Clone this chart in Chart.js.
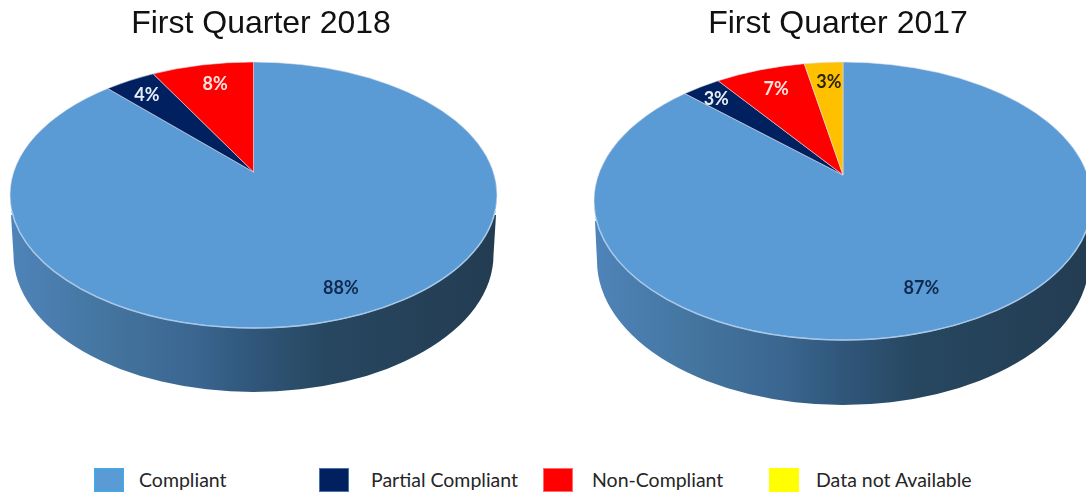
<!DOCTYPE html>
<html>
<head>
<meta charset="utf-8">
<title>Compliance by quarter</title>
<script src="https://cdn.jsdelivr.net/npm/chart.js@4"></script>
<style>
    html, body { margin: 0; padding: 0; background: #fff; }
    body { position: relative; width: 1086px; height: 493px; overflow: hidden; }
    canvas { position: absolute; top: 0; }
    #chart2018 { left: 0; }
    #chart2017 { left: 590px; }
    .swatch { position: absolute; top: 468px; width: 28px; height: 22px; border: 1px solid; }
    .legend-text { position: absolute; top: 468px; line-height: 25px; font: 19.5px Lato, sans-serif; color: #262626; white-space: nowrap; }
</style>
</head>
<body>
<canvas id="chart2018" width="522" height="430"></canvas>
<canvas id="chart2017" width="496" height="430"></canvas>
<div id="legend"></div>

<script>
// Data
const categories2018 = ['Compliant', 'Partial Compliant', 'Non-Compliant'];
const values2018 = [88, 4, 8];
const categories2017 = ['Compliant', 'Partial Compliant', 'Non-Compliant', 'Data not Available'];
const values2017 = [87, 3, 7, 3];
const legendLabels = ['Compliant', 'Partial Compliant', 'Non-Compliant', 'Data not Available'];

// Styles
const sliceColors = ['#5b9bd5', '#002060', '#ff0000', '#ffc000'];
const labelColors = ['#10294f', '#e8edf5', '#ffe4e0', '#2a2408'];
const legendColors = ['#5b9bd5', '#002060', '#ff0000', '#ffff00'];
const legendBorders = ['#2fb4ee', '#4a74a8', '#ff6a6a', '#ffff00'];
const legendSwatchX = [94, 319, 543, 769];
const legendTextX = [139, 371, 592, 816];

// Draws the pie as a tilted disc, using the slice angles worked out by Chart.js
const discPlugin = {
    id: 'disc',
    beforeDatasetsDraw(chart, args, opts) {
        const ctx = chart.ctx;
        const { cx, cy, rx, ry, apexY, sideTop, sideDrop, sideRx, sideRy } = opts;
        // foreshortening of the angles, because the apex is not the ellipse centre
        const e = (cy - apexY) / ry;
        const k = Math.sqrt((1 - e) / (1 + e));
        const toEllipse = a => {
            const theta = a + Math.PI / 2;
            return 2 * Math.atan2(k * Math.sin(theta / 2), Math.cos(theta / 2)) - Math.PI / 2;
        };

        // side wall
        const grad = ctx.createLinearGradient(cx - rx, 0, cx + rx, 0);
        grad.addColorStop(0, '#4f84ba');
        grad.addColorStop(0.2, '#44759f');
        grad.addColorStop(0.38, '#3a6690');
        grad.addColorStop(0.5, '#30567a');
        grad.addColorStop(0.65, '#274760');
        grad.addColorStop(1, '#233c52');
        ctx.save();
        ctx.beginPath();
        ctx.moveTo(cx - rx + 1, cy + sideTop);
        ctx.ellipse(cx, cy + sideDrop, sideRx, sideRy, 0, Math.PI, 0, true);
        ctx.lineTo(cx + rx - 1, cy + sideTop);
        ctx.closePath();
        ctx.fillStyle = grad;
        ctx.fill();

        // top face
        const arcs = chart.getDatasetMeta(0).data;
        arcs.forEach((arc, i) => {
            const start = toEllipse(arc.startAngle);
            const end = toEllipse(arc.endAngle);
            ctx.beginPath();
            ctx.moveTo(cx, apexY);
            ctx.ellipse(cx, cy, rx, ry, 0, start, end);
            ctx.closePath();
            ctx.fillStyle = sliceColors[i];
            ctx.fill();
            ctx.strokeStyle = 'rgba(225,225,235,0.55)';
            ctx.lineWidth = 1;
            ctx.stroke();
        });

        // light rim along the front edge
        ctx.beginPath();
        ctx.ellipse(cx, cy, rx, ry, 0, 0.12, Math.PI - 0.12);
        ctx.strokeStyle = '#a8c8e8';
        ctx.lineWidth = 1.5;
        ctx.stroke();

        // percentage labels
        ctx.font = 'bold 18px Lato, sans-serif';
        ctx.textAlign = 'center';
        ctx.textBaseline = 'middle';
        arcs.forEach((arc, i) => {
            const mid = toEllipse((arc.startAngle + arc.endAngle) / 2);
            const x = cx + opts.labelReach * rx * Math.cos(mid) + opts.labelNudge[i][0];
            const rimY = cy + ry * Math.sin(mid);
            const y = apexY + opts.labelReach * (rimY - apexY) + opts.labelNudge[i][1];
            ctx.fillStyle = labelColors[i];
            ctx.fillText(chart.data.datasets[0].data[i] + '%', x, y);
        });
        ctx.restore();
        return false;
    }
};

function makePie(id, titleText, labels, values, disc) {
    return new Chart(document.getElementById(id), {
        type: 'pie',
        data: {
            labels: labels,
            datasets: [{ data: values, backgroundColor: sliceColors }]
        },
        options: {
            responsive: false,
            animation: false,
            plugins: {
                legend: { display: false },
                title: {
                    display: true,
                    text: titleText,
                    color: '#111',
                    font: { family: 'Liberation Sans', size: 32, weight: 'normal' },
                    padding: { top: 5, bottom: 4 }
                },
                disc: disc
            }
        },
        plugins: [discPlugin]
    });
}

makePie('chart2018', 'First Quarter 2018', categories2018, values2018, {
    cx: 253.5, cy: 195, rx: 243.5, ry: 133, apexY: 172,
    sideTop: 20, sideDrop: 60, sideRx: 240, sideRy: 137, labelReach: 0.83,
    labelNudge: [[0, -2], [-4, -1], [4, 1]]
});
makePie('chart2017', 'First Quarter 2017', categories2017, values2017, {
    cx: 253, cy: 201, rx: 249, ry: 139, apexY: 175,
    sideTop: 20, sideDrop: 60, sideRx: 246, sideRy: 144, labelReach: 0.83,
    labelNudge: [[-19, -10], [-9, -3], [2, 1], [2, 1]]
});

// Legend swatches are not the same colours as the slices, so it is built by hand
const legend = document.getElementById('legend');
legendLabels.forEach((label, i) => {
    const swatch = document.createElement('div');
    swatch.className = 'swatch';
    swatch.style.left = legendSwatchX[i] + 'px';
    swatch.style.background = legendColors[i];
    swatch.style.borderColor = legendBorders[i];
    legend.appendChild(swatch);
    const text = document.createElement('div');
    text.className = 'legend-text';
    text.style.left = legendTextX[i] + 'px';
    text.textContent = label;
    legend.appendChild(text);
});
</script>
</body>
</html>
